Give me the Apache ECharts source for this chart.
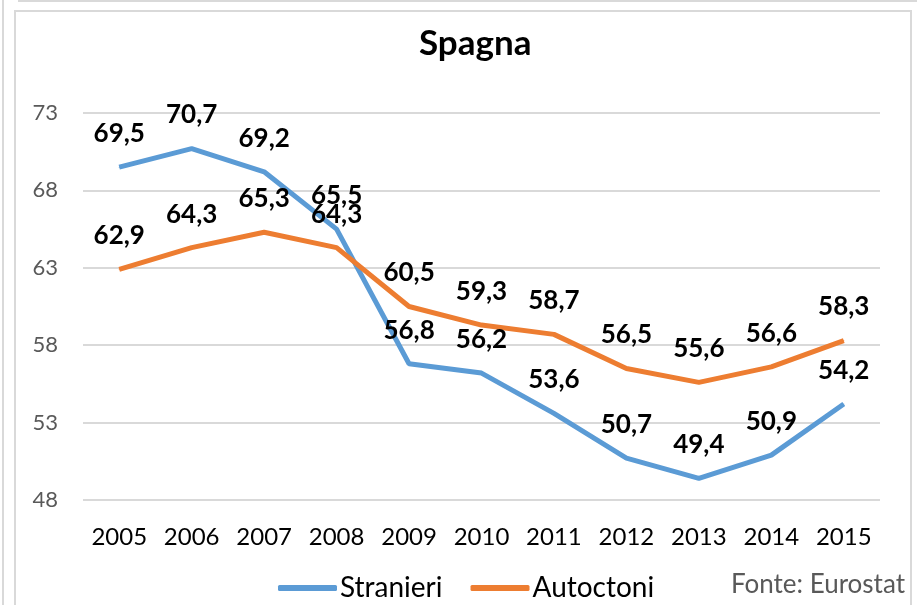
<!DOCTYPE html>
<html>
<head>
<meta charset="utf-8">
<script src="https://cdn.jsdelivr.net/npm/echarts@6/dist/echarts.min.js"></script>
<style>
  html, body { margin: 0; padding: 0; background: #fff; }
  #main { width: 917px; height: 605px; }
</style>
</head>
<body>
<div id="main"></div>
<script>
const years = ['2005', '2006', '2007', '2008', '2009', '2010', '2011', '2012', '2013', '2014', '2015'];
const stranieri = [69.5, 70.7, 69.2, 65.5, 56.8, 56.2, 53.6, 50.7, 49.4, 50.9, 54.2];
const autoctoni = [62.9, 64.3, 65.3, 64.3, 60.5, 59.3, 58.7, 56.5, 55.6, 56.6, 58.3];
const yMin = 48, yMax = 73, yStep = 5;

const font = 'Lato, "Open Sans", sans-serif';
const comma = (p) => String(p.value).replace('.', ',');

const chart = echarts.init(document.getElementById('main'));

const dataLabel = {
  show: true, position: 'top', distance: 20, formatter: comma,
  fontFamily: font, fontSize: 26, fontWeight: 'bold', color: '#000'
};

chart.setOption({
  animation: false,
  title: {
    text: 'Spagna',
    left: 414,
    top: 21,
    textStyle: { fontFamily: font, fontSize: 35, fontWeight: 'bold', color: '#000' }
  },
  grid: { left: 83, right: 37, top: 113, bottom: 105 },
  legend: {
    left: 273,
    top: 569,
    itemWidth: 59,
    itemHeight: 6,
    itemGap: 28,
    textStyle: { fontFamily: font, fontSize: 28, color: '#000', padding: [0, 0, 0, -2] },
    data: [
      { name: 'Stranieri', icon: 'roundRect' },
      { name: 'Autoctoni', icon: 'roundRect' }
    ]
  },
  xAxis: {
    type: 'category',
    data: years,
    axisLine: { show: false },
    axisTick: { show: false },
    axisLabel: { interval: 0, fontFamily: font, fontSize: 24, color: '#000', margin: 25 }
  },
  yAxis: {
    type: 'value',
    min: yMin,
    max: yMax,
    interval: yStep,
    axisLine: { show: false },
    axisTick: { show: false },
    axisLabel: { fontFamily: font, fontSize: 22, color: '#595959', margin: 25 },
    splitLine: { lineStyle: { color: '#d9d9d9', width: 2 } }
  },
  graphic: [
    { type: 'line', shape: { x1: 18, y1: 1, x2: 917, y2: 1 }, style: { stroke: '#d9d9d9', lineWidth: 2 } },
    { type: 'line', shape: { x1: 3, y1: 0, x2: 3, y2: 605 }, style: { stroke: '#d9d9d9', lineWidth: 2 } },
    { type: 'rect', shape: { x: 15, y: 11, width: 896, height: 600 }, style: { fill: 'none', stroke: '#d9d9d9', lineWidth: 2 } },
    {
      type: 'text', right: 12, top: 572,
      style: { text: 'Fonte: Eurostat', font: '26px ' + font, fill: '#595959' }
    }
  ],
  series: [
    {
      name: 'Stranieri',
      type: 'line',
      data: stranieri,
      symbol: 'circle',
      symbolSize: 1,
      lineStyle: { color: '#5b9bd5', width: 5 },
      itemStyle: { color: '#5b9bd5' },
      label: dataLabel
    },
    {
      name: 'Autoctoni',
      type: 'line',
      data: autoctoni,
      symbol: 'circle',
      symbolSize: 1,
      lineStyle: { color: '#ed7d31', width: 5 },
      itemStyle: { color: '#ed7d31' },
      label: dataLabel
    }
  ]
});
</script>
</body>
</html>
